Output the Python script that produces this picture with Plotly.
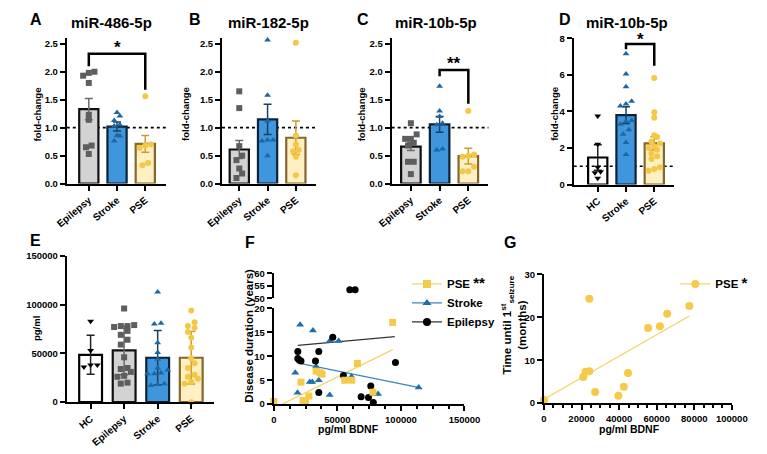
import numpy as np
import plotly.graph_objects as go

W, H = 767, 454
FONT = "Liberation Sans, Arial, sans-serif"

groups_abc = ["Epilepsy", "Stroke", "PSE"]
groups_d = ["HC", "Stroke", "PSE"]
groups_e = ["HC", "Epilepsy", "Stroke", "PSE"]

# A: miR-486-5p (fold-change)
a_epilepsy = [2.00, 1.98, 1.93, 1.80, 1.23, 1.14, 0.68, 0.65, 0.53]
a_stroke = [1.27, 1.21, 1.13, 1.05, 1.03, 0.86, 0.85, 0.76]
a_pse = [1.56, 0.70, 0.68, 0.64, 0.37, 0.33]
a_mean = [1.33, 1.02, 0.71]
a_sem = [0.19, 0.08, 0.15]

# B: miR-182-5p
b_epilepsy = [1.65, 1.35, 0.67, 0.50, 0.42, 0.27, 0.18, 0.10]
b_stroke = [2.57, 1.58, 1.12, 0.78, 0.78, 0.76, 0.50]
b_pse = [2.52, 0.86, 0.70, 0.60, 0.58, 0.48, 0.15]
b_mean = [0.61, 1.15, 0.82]
b_sem = [0.16, 0.27, 0.30]

# C: miR-10b-5p
c_epilepsy = [1.08, 0.88, 0.80, 0.80, 0.73, 0.68, 0.39, 0.39, 0.17]
c_stroke = [1.74, 1.30, 1.20, 1.08, 1.05, 0.62, 0.60]
c_pse = [1.30, 0.52, 0.50, 0.48, 0.30, 0.22, 0.22]
c_mean = [0.66, 1.06, 0.49]
c_sem = [0.07, 0.14, 0.14]

# D: miR-10b-5p (HC / Stroke / PSE)
d_hc = [3.75, 2.20, 0.95, 0.70, 0.65, 0.35]
d_stroke = [7.15, 6.05, 5.35, 4.55, 4.40, 4.30, 3.50, 3.45, 3.30, 3.00, 2.75, 2.30, 1.65]
d_pse = [5.82, 3.95, 3.65, 2.70, 2.60, 2.35, 2.25, 2.10, 2.00, 1.90, 1.70,
         1.55, 1.40, 0.95, 0.85, 0.75]
d_mean = [1.48, 3.80, 2.25]
d_sem = [0.70, 0.46, 0.36]

# E: BDNF pg/ml
e_hc = [83000, 53000, 38000, 38000, 36000]
e_epilepsy = [96000, 79000, 78000, 78000, 77000, 73000, 69000, 64000, 59000, 46000,
              35000, 34000, 31000, 27000, 26000, 20000, 19000]
e_stroke = [113000, 81000, 80000, 61000, 51000, 44000, 35000, 33000, 30000, 29000,
            29000, 19000, 18000, 17000]
e_pse = [94000, 82000, 78000, 76000, 72000, 66000, 56000, 45000, 40000, 35000,
         28000, 26000, 24000, 21000, 19000, 0]
e_mean = [48500, 53000, 45500, 45500]
e_sd = [20000, 25000, 28000, 27000]

# F: disease duration (years) vs BDNF
f_pse_x = [0, 21400, 23000, 25000, 27600, 33300, 36400, 38000, 55800, 61300, 65800, 78000, 93500]
f_pse_y = [0.55, 4.6, 0.75, 0.75, 1.7, 6.9, 6.55, 6.3, 5.0, 5.0, 8.5, 2.5, 17.1]
f_str_x = [20700, 30800, 16900, 18700, 28300, 30300, 33300, 35400, 44000, 51000,
           44000, 61100, 79300, 82000, 114000]
f_str_y = [16.6, 15.4, 6.55, 2.4, 4.6, 4.6, 7.85, 5.0, 13.2, 13.2, 1.9, 5.8, 2.1, 2.1, 3.5]
f_epi_x = [18900, 18900, 20200, 21400, 35400, 32800, 35400, 46400, 54800, 68700,
           74500, 76300, 78300, 95700, 59800, 64000]
f_epi_y = [11.0, 9.55, 9.2, 9.0, 11.0, 9.0, 2.45, 14.0, 6.0, 1.55, 1.4, 3.8, 0.35,
           8.7, 53.4, 53.4]
f_pse_fit_x = [6800, 93500]
f_pse_fit_y = [0.0, 11.4]
f_str_fit_x = [20600, 113600]
f_str_fit_y = [8.5, 3.5]
f_epi_fit_x = [18900, 95200]
f_epi_fit_y = [12.3, 14.1]

# G: time until 1st seizure (months) vs BDNF
g_x = [0, 20900, 22100, 24100, 24100, 27200, 39600, 42500, 44700, 55400, 61700, 65600, 77400]
g_y = [0.76, 6.07, 7.3, 7.4, 24.3, 2.6, 1.75, 3.8, 7.0, 17.5, 17.9, 20.8, 22.6]
g_fit_x = [0, 77400]
g_fit_y = [0.9, 20.3]

# ---------------- styles ----------------
STY = {
    "Epilepsy": dict(fill="#d3d3d3", line="#111111", pt="#5e5e5e", err="#6b6b6b", sym="square"),
    "Stroke": dict(fill="#3f96dc", line="#0d2236", pt="#1c67a4", err="#1d3f5f", sym="triangle-up"),
    "PSE": dict(fill="#fff0c4", line="#86662a", pt="#f5c744", err="#c99b34", sym="circle"),
    "HC": dict(fill="rgba(255,255,255,0)", line="#000000", pt="#000000", err="#222222",
               sym="triangle-down"),
}
SCAT = {
    "PSE": dict(sym="square", pt="#f7c948", fit="#f2d56b"),
    "Stroke": dict(sym="triangle-up", pt="#1f6fab", fit="#3a86bf"),
    "Epilepsy": dict(sym="circle", pt="#000000", fit="#333333"),
}
LABEL_ANGLE = -40


def dx(a, b):
    return [a / W, b / W]


def dy(top, bottom):
    return [1 - bottom / H, 1 - top / H]


def spread(vals, thr, step=0.2, lim=0.3):
    vals = np.asarray(vals, float)
    order = np.argsort(vals)
    offs = np.zeros(len(vals))
    i = 0
    while i < len(order):
        j = i
        while j + 1 < len(order) and vals[order[j + 1]] - vals[order[i]] < thr:
            j += 1
        n = j - i + 1
        s = step if n <= 1 else min(step, 2 * lim / (n - 1))
        for k in range(n):
            offs[order[i + k]] = (k - (n - 1) / 2) * s
        i = j + 1
    return offs


TICKFONT = dict(family=FONT, size=9.5, color="black", weight="bold")


def base_axis(**kw):
    d = dict(showline=True, linecolor="black", linewidth=2, ticks="outside", ticklen=5,
             tickwidth=2, tickcolor="black", showgrid=False, zeroline=False,
             tickfont=TICKFONT, fixedrange=True)
    d.update(kw)
    return d


fig = go.Figure()
layout = dict(width=W, height=H, margin=dict(l=0, r=0, t=0, b=0), autosize=False,
              paper_bgcolor="white", plot_bgcolor="rgba(0,0,0,0)", barmode="overlay",
              font=dict(family=FONT, color="black"), showlegend=True)
shapes = []
annots = []


def bar_panel(n, names, series, means, errs, xdom, ydom, xr, yr, yticks, yfmt, thr, bw=0.68):
    xa = "x" if n == 1 else f"x{n}"
    ya = "y" if n == 1 else f"y{n}"
    for i, (nm, vals, m, e) in enumerate(zip(names, series, means, errs)):
        s = STY[nm]
        fig.add_trace(go.Bar(x=[i], y=[m], width=bw, xaxis=xa, yaxis=ya, showlegend=False,
                             marker=dict(color=s["fill"], line=dict(color=s["line"], width=2.2)),
                             error_y=dict(type="data", array=[e], visible=True, color=s["err"],
                                          thickness=1.5, width=4)))
    for i, (nm, vals) in enumerate(zip(names, series)):
        s = STY[nm]
        offs = spread(vals, thr)
        fig.add_trace(go.Scatter(x=i + offs, y=vals, mode="markers", xaxis=xa, yaxis=ya,
                                 showlegend=False, cliponaxis=False,
                                 marker=dict(symbol=s["sym"], size=6, color=s["pt"], line=dict(width=0))))
    key = n if n > 1 else ""
    layout[f"xaxis{key}"] = base_axis(domain=dx(*xdom), range=xr, anchor=ya,
                                      tickmode="array", tickvals=list(range(len(names))),
                                      ticktext=names, tickangle=LABEL_ANGLE,
                                      tickfont=dict(family=FONT, size=10, color="black",
                                                    weight="bold"))
    layout[f"yaxis{key}"] = base_axis(domain=dy(*ydom), range=yr, anchor=xa,
                                      tickmode="array", tickvals=yticks,
                                      ticktext=[yfmt.format(t) for t in yticks])


t25 = [0, 0.5, 1.0, 1.5, 2.0, 2.5]
bar_panel(1, groups_abc, [a_epilepsy, a_stroke, a_pse], a_mean, a_sem, (53, 157), (33, 182),
          [-0.78, 2.75], [0, 2.6], t25, "{:.1f}", 0.09)
bar_panel(2, groups_abc, [b_epilepsy, b_stroke, b_pse], b_mean, b_sem, (215, 313), (33, 182),
          [-0.61, 2.71], [0, 2.6], t25, "{:.1f}", 0.09)
bar_panel(3, groups_abc, [c_epilepsy, c_stroke, c_pse], c_mean, c_sem, (392, 493), (33, 182),
          [-0.67, 2.7], [0, 2.6], t25, "{:.1f}", 0.09)
bar_panel(4, groups_d, [d_hc, d_stroke, d_pse], d_mean, d_sem, (582, 687), (33, 183),
          [-0.85, 2.71], [0, 8], [0, 2, 4, 6, 8], "{:d}", 0.28)
bar_panel(5, groups_e, [e_hc, e_epilepsy, e_stroke, e_pse], e_mean, e_sd, (53, 207), (256, 406),
          [-0.71, 3.69], [0, 150000], [0, 50000, 100000, 150000], "{:d}", 5500)

# dotted reference lines at fold-change 1
for ax in ["x", "x2", "x3", "x4"]:
    yax = ax.replace("x", "y")
    shapes.append(dict(type="line", xref=f"{ax} domain", yref=yax, x0=0, x1=1, y0=1, y1=1,
                       line=dict(color="black", width=1.6, dash="dot"), layer="below"))


def bracket(xa, ya, x0, x1, ytop, yl, yr_, star, ystar):
    shapes.append(dict(type="path", xref=xa, yref=ya,
                       path=f"M {x0},{yl} L {x0},{ytop} L {x1},{ytop} L {x1},{yr_}",
                       line=dict(color="black", width=2.5)))
    annots.append(dict(xref=xa, yref=ya, x=(x0 + x1) / 2, y=ystar, text=f"<b>{star}</b>",
                       showarrow=False, font=dict(size=17, family=FONT, color="black"),
                       yanchor="middle"))


bracket("x", "y", 0, 2, 2.32, 2.1, 1.68, "*", 2.44)
bracket("x3", "y3", 1, 2, 2.03, 1.92, 1.43, "**", 2.15)
bracket("x4", "y4", 1, 2, 7.68, 7.4, 6.5, "*", 7.95)

# ---------------- F ----------------
f_epi_x_arr = np.array(f_epi_x)
f_epi_y_arr = np.array(f_epi_y)
low = f_epi_y_arr < 30
for (fx, fy, nm) in [(f_pse_fit_x, f_pse_fit_y, "PSE"), (f_str_fit_x, f_str_fit_y, "Stroke"),
                     (f_epi_fit_x, f_epi_fit_y, "Epilepsy")]:
    fig.add_trace(go.Scatter(x=fx, y=fy, mode="lines", xaxis="x6", yaxis="y6", showlegend=False,
                             line=dict(color=SCAT[nm]["fit"], width=1.3)))
for (xs, ys, nm) in [(f_str_x, f_str_y, "Stroke"), (f_epi_x_arr[low], f_epi_y_arr[low], "Epilepsy"),
                     (f_pse_x, f_pse_y, "PSE")]:
    s = SCAT[nm]
    fig.add_trace(go.Scatter(x=xs, y=ys, mode="markers", xaxis="x6", yaxis="y6", showlegend=False,
                             cliponaxis=False,
                             marker=dict(symbol=s["sym"], size=7, color=s["pt"], line=dict(width=0))))
fig.add_trace(go.Scatter(x=f_epi_x_arr[~low], y=f_epi_y_arr[~low], mode="markers", xaxis="x6",
                         yaxis="y7", showlegend=False, cliponaxis=False,
                         marker=dict(symbol="circle", size=7, color="black")))

leg_names = {"PSE": "PSE <span style='font-size:15px'>**</span>", "Stroke": "Stroke",
             "Epilepsy": "Epilepsy"}
for k, nm in enumerate(["PSE", "Stroke", "Epilepsy"]):
    s = SCAT[nm]
    fig.add_trace(go.Scatter(x=[None], y=[None], mode="lines+markers", name=leg_names[nm],
                             xaxis="x6", yaxis="y6", legend="legend", legendgroup=f"g{k}",
                             marker=dict(symbol=s["sym"], size=8, color=s["pt"]),
                             line=dict(color=s["fit"], width=1.3)))

layout["xaxis6"] = base_axis(domain=dx(269, 468), range=[0, 150000], anchor="y6",
                             tickmode="array", tickvals=[0, 50000, 100000, 150000],
                             ticktext=["0", "50000", "100000", "150000"],
                             minor=dict(dtick=12500, ticks="outside", ticklen=3, tickwidth=1.5,
                                        tickcolor="black", showgrid=False))
layout["yaxis6"] = base_axis(domain=dy(310, 408), range=[0, 20], anchor="x6",
                             tickmode="array", tickvals=[0, 5, 10, 15, 20])
layout["yaxis7"] = base_axis(domain=dy(274, 299.5), range=[50, 60], anchor="x6",
                             tickmode="array", tickvals=[50, 55, 60])

# ---------------- G ----------------
fig.add_trace(go.Scatter(x=g_fit_x, y=g_fit_y, mode="lines", xaxis="x7", yaxis="y8",
                         showlegend=False, line=dict(color="#f2d56b", width=1.3)))
fig.add_trace(go.Scatter(x=g_x, y=g_y, mode="markers", xaxis="x7", yaxis="y8", showlegend=False,
                         cliponaxis=False, marker=dict(symbol="circle", size=8, color="#f7c948")))
fig.add_trace(go.Scatter(x=[None], y=[None], mode="lines+markers",
                         name="PSE <span style='font-size:15px'>*</span>",
                         xaxis="x7", yaxis="y8", legend="legend2",
                         marker=dict(symbol="circle", size=8, color="#f7c948"),
                         line=dict(color="#f2d56b", width=1.3)))
layout["xaxis7"] = base_axis(domain=dx(551, 747), range=[0, 100000], anchor="y8",
                             tickmode="array",
                             tickvals=[0, 20000, 40000, 60000, 80000, 100000],
                             ticktext=["0", "20000", "40000", "60000", "80000", "100000"],
                             minor=dict(dtick=5000, ticks="outside", ticklen=3, tickwidth=1.5,
                                        tickcolor="black", showgrid=False))
layout["yaxis8"] = base_axis(domain=dy(275, 407), range=[0, 30], anchor="x7",
                             tickmode="array", tickvals=[0, 10, 20, 30])

layout["legend"] = dict(x=408 / W, y=1 - 270 / H, xanchor="left", yanchor="top",
                        bgcolor="rgba(0,0,0,0)", tracegroupgap=0, traceorder="grouped",
                        font=dict(family=FONT, size=11.5, color="black", weight="bold"),
                        itemwidth=30)
layout["legend2"] = dict(x=688 / W, y=1 - 270 / H, xanchor="left", yanchor="top",
                         bgcolor="rgba(0,0,0,0)",
                         font=dict(family=FONT, size=11.5, color="black", weight="bold"),
                         itemwidth=30)


# ---------------- text ----------------
def txt(x, y, s, size, angle=0, anchor="center"):
    annots.append(dict(xref="paper", yref="paper", x=x / W, y=1 - y / H, text=f"<b>{s}</b>",
                       showarrow=False, textangle=angle, xanchor=anchor, yanchor="middle",
                       font=dict(family=FONT, size=size, color="black")))


for (x, y, s) in [(21, 14, "A"), (187, 14, "B"), (362, 14, "C"), (573, 14, "D"),
                  (20, 240, "E"), (244, 242, "F"), (516, 242, "G")]:
    txt(x, y, s, 16)
for (x, s) in [(100, "miR-486-5p"), (263, "miR-182-5p"), (438, "miR-10b-5p"), (638, "miR-10b-5p")]:
    txt(x, 17, s, 15)
for x in [22, 177, 360, 562]:
    txt(x, 111, "fold-change", 9.5, angle=-90)
txt(22, 331, "pg/ml", 9.5, angle=-90)
txt(243, 338, "Disease duration (years)", 11.5, angle=-90)
txt(519, 327, "Time until 1<sup>st</sup><sub>seizure</sub><br>(months)", 11.5, angle=-90)
txt(347, 434, "pg/ml BDNF", 10.5)
txt(640, 434, "pg/ml BDNF", 10.5)

layout["shapes"] = shapes
layout["annotations"] = annots
fig.update_layout(**layout)
fig.write_html("out.html")
